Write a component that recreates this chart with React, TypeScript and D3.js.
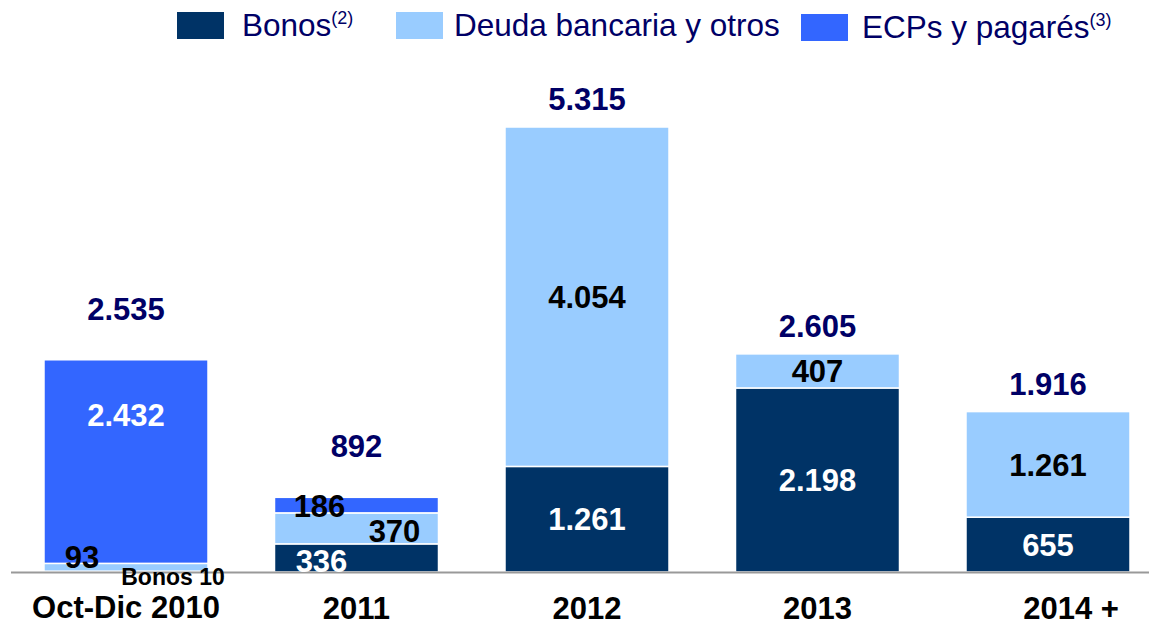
import * as d3 from "d3";

const categories = ["Oct-Dic 2010", "2011", "2012", "2013", "2014 +"];
const bonos = [10, 336, 1261, 2198, 655];
const deuda = [93, 370, 4054, 407, 1261];
const ecps = [2432, 186, 0, 0, 0];

const seriesNames = ["Bonos", "Deuda bancaria y otros", "ECPs y pagarés"];
const seriesSup = ["(2)", "", "(3)"];
const seriesColors = ["#003366", "#99CCFF", "#3366FF"];
const labelColors = ["#ffffff", "#000000", "#ffffff"];

const W = 1149;
const H = 626;
const FONT = "'Liberation Sans', Arial, Helvetica, sans-serif";

const locale = d3.formatLocale({ decimal: ",", thousands: ".", grouping: [3], currency: ["", ""] });
const fmt = locale.format(",d");

// hand placed labels where the segment is too thin or crowded
const labelTweak: Record<string, { dx: number; dy: number; text?: string; size?: number; color?: string }> = {
  "0-0": { dx: 47, dy: 5, text: "Bonos 10", size: 23, color: "#000" },
  "0-1": { dx: -44, dy: -10, color: "#000" },
  "0-2": { dx: 0, dy: -47 },
  "1-0": { dx: -35, dy: 3 },
  "1-1": { dx: 38, dy: 2 },
  "1-2": { dx: -37, dy: 1, color: "#000" },
};

export default function App() {
  const baseY = 572;
  const x = d3
    .scaleBand<string>()
    .domain(categories)
    .range([10.75, 10.75 + 230.5 * categories.length])
    .paddingInner(0.2885)
    .paddingOuter(0.14425);
  const totals = categories.map((_, i) => bonos[i] + deuda[i] + ecps[i]);
  const y = d3.scaleLinear().domain([0, 5315]).range([baseY, 127]);

  const table = categories.map((c, i) => ({ cat: c, s0: bonos[i], s1: deuda[i], s2: ecps[i] }));
  const stacked = d3.stack<any>().keys(["s0", "s1", "s2"])(table);

  const legendX = [177, 396, 801];
  const legendTextX = [242, 454, 862];

  return (
    <svg width={W} height={H} style={{ position: "absolute", left: 0, top: 0, background: "#fff" }} fontFamily={FONT}>
      {/* legend */}
      {seriesNames.map((n, k) => (
        <g key={n}>
          <rect x={legendX[k]} y={12 + (k === 2 ? 2 : 0)} width={47} height={27} fill={seriesColors[k]} />
          <text x={legendTextX[k]} y={36 + (k === 2 ? 2 : 0)} fontSize={31.5} fill="#000066">
            {n}
            {seriesSup[k] && (
              <tspan fontSize={18} dy={-12}>
                {seriesSup[k]}
              </tspan>
            )}
          </text>
        </g>
      ))}

      {/* bars */}
      {stacked.map((layer, k) =>
        layer.map((d, i) => {
          const v = d[1] - d[0];
          if (v <= 0) return null;
          return (
            <rect
              key={`${k}-${i}`}
              x={x(categories[i])}
              y={y(d[1])}
              width={x.bandwidth()}
              height={y(d[0]) - y(d[1])}
              fill={seriesColors[k]}
              stroke="#fff"
              strokeWidth={1.5}
            />
          );
        })
      )}

      {/* axis line */}
      <line x1={11} x2={W} y1={baseY + 0.5} y2={baseY + 0.5} stroke="#999" strokeWidth={2} />

      {/* segment labels */}
      {stacked.map((layer, k) =>
        layer.map((d, i) => {
          const v = d[1] - d[0];
          if (v <= 0) return null;
          const t = labelTweak[`${i}-${k}`] || { dx: 0, dy: 0 };
          const cx = (x(categories[i]) as number) + x.bandwidth() / 2 + t.dx;
          const cy = (y(d[0]) + y(d[1])) / 2 + t.dy;
          const size = t.size || 31;
          return (
            <text
              key={`l${k}-${i}`}
              x={cx}
              y={cy + size * 0.36}
              textAnchor="middle"
              fontSize={size}
              fontWeight="bold"
              fill={t.color || labelColors[k]}
            >
              {t.text || fmt(v)}
            </text>
          );
        })
      )}

      {/* totals */}
      {totals.map((t, i) => (
        <text
          key={`t${i}`}
          x={(x(categories[i]) as number) + x.bandwidth() / 2}
          y={y(t) - (i < 2 ? 40 : 17)}
          textAnchor="middle"
          fontSize={31}
          fontWeight="bold"
          fill="#000066"
        >
          {fmt(t)}
        </text>
      ))}

      {/* category labels */}
      {categories.map((c, i) => (
        <text
          key={c}
          x={(x(c) as number) + x.bandwidth() / 2 + (i === 4 ? 23 : 0)}
          y={i === 0 ? 618 : 619}
          textAnchor="middle"
          fontSize={31}
          fontWeight="bold"
          fill="#000"
        >
          {c}
        </text>
      ))}
    </svg>
  );
}
